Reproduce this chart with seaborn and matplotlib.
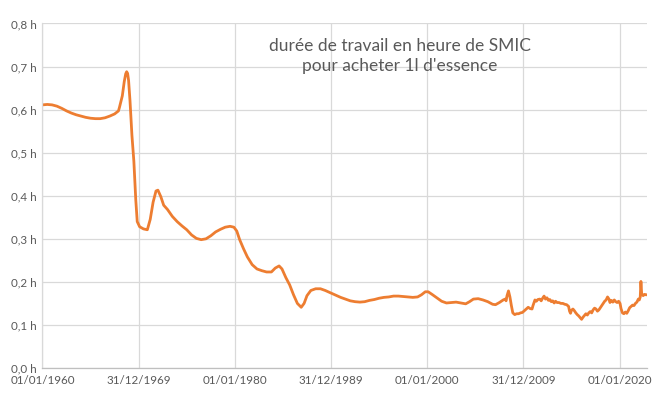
import matplotlib
matplotlib.use("Agg")
import matplotlib.pyplot as plt
import matplotlib.dates as mdates
import numpy as np
import pandas as pd
import seaborn as sns

# ---- data ----
years = [
    1960.0, 1960.5, 1961.0, 1961.5, 1962.0, 1962.5, 1963.0, 1963.5, 1964.0, 1964.5,
    1965.0, 1965.5, 1966.0, 1966.5, 1967.0, 1967.5, 1967.9, 1968.0, 1968.3, 1968.5,
    1968.65, 1968.75, 1968.85, 1968.95, 1969.1, 1969.3, 1969.5, 1969.7, 1969.85, 1970.1,
    1970.5, 1970.9,
    1971.2, 1971.5, 1971.8, 1972.0, 1972.3, 1972.6, 1973.0, 1973.5, 1974.0, 1974.5,
    1975.0, 1975.5, 1976.0, 1976.5, 1977.0, 1977.5, 1978.0, 1978.5, 1979.0, 1979.5,
    1979.9, 1980.2, 1980.5, 1980.9, 1981.3, 1981.8, 1982.3, 1982.8, 1983.3, 1983.8,
    1984.2, 1984.6, 1984.9, 1985.3, 1985.7, 1986.1, 1986.5, 1986.9, 1987.2, 1987.5,
    1987.9, 1988.4, 1988.9, 1989.4, 1989.9, 1990.5, 1991.0, 1991.5, 1992.0, 1992.5,
    1993.0, 1993.5, 1994.0, 1994.5, 1995.0, 1995.5, 1996.0, 1996.5, 1997.0, 1997.5,
    1998.0, 1998.5, 1999.0, 1999.4, 1999.8, 2000.1, 2000.5, 2001.0, 2001.5, 2002.0,
    2002.5, 2003.0, 2003.5, 2004.0, 2004.4, 2004.8, 2005.3, 2005.8, 2006.3, 2006.8,
    2007.1, 2007.5, 2007.9, 2008.1, 2008.2, 2008.3, 2008.45, 2008.6, 2008.75, 2008.9,
    2009.1, 2009.3, 2009.5, 2009.7, 2009.9, 2010.1, 2010.3, 2010.5, 2010.7, 2010.9,
    2011.0, 2011.2, 2011.35, 2011.5, 2011.7, 2011.85, 2012.0, 2012.15, 2012.3, 2012.45,
    2012.6, 2012.75, 2012.9, 2013.05, 2013.2, 2013.35, 2013.5, 2013.7, 2013.9, 2014.1,
    2014.3, 2014.5, 2014.7, 2014.8, 2014.9, 2015.0, 2015.15, 2015.3, 2015.45, 2015.6,
    2015.75, 2015.9, 2016.05, 2016.2, 2016.35, 2016.5, 2016.65, 2016.8, 2016.95, 2017.1,
    2017.25, 2017.4, 2017.55, 2017.7, 2017.85, 2018.0, 2018.15, 2018.3, 2018.45, 2018.6,
    2018.75, 2018.9, 2019.0, 2019.15, 2019.3, 2019.45, 2019.6, 2019.75, 2019.9, 2020.05,
    2020.15, 2020.3, 2020.45, 2020.6, 2020.75, 2020.9, 2021.05, 2021.2, 2021.35, 2021.5,
    2021.65, 2021.8, 2021.95, 2022.05, 2022.15, 2022.22, 2022.3, 2022.45, 2022.6, 2022.75,
    2022.85,
]
hours = [
    0.611, 0.612, 0.611, 0.608, 0.603, 0.597, 0.592, 0.588, 0.585, 0.582,
    0.580, 0.579, 0.579, 0.581, 0.585, 0.590, 0.597, 0.605, 0.632, 0.665,
    0.683, 0.688, 0.684, 0.668, 0.620, 0.540, 0.480, 0.390, 0.340, 0.328,
    0.323, 0.321,
    0.345, 0.385, 0.411, 0.413, 0.398, 0.378, 0.368, 0.352, 0.340, 0.330,
    0.321, 0.309, 0.301, 0.298, 0.300, 0.307, 0.316, 0.322, 0.327, 0.329,
    0.327, 0.318, 0.298, 0.277, 0.258, 0.240, 0.230, 0.226, 0.223, 0.223,
    0.232, 0.237, 0.230, 0.210, 0.193, 0.170, 0.150, 0.141, 0.150, 0.168,
    0.180, 0.184, 0.184, 0.180, 0.175, 0.169, 0.164, 0.160, 0.156, 0.154,
    0.153, 0.154, 0.157, 0.159, 0.162, 0.164, 0.165, 0.167, 0.167, 0.166,
    0.165, 0.164, 0.165, 0.170, 0.177, 0.177, 0.171, 0.163, 0.155, 0.151,
    0.152, 0.153, 0.151, 0.149, 0.154, 0.160, 0.161, 0.158, 0.154, 0.148,
    0.147, 0.152, 0.158, 0.160, 0.156, 0.168, 0.179, 0.165, 0.145, 0.128,
    0.124, 0.126, 0.126, 0.128, 0.129, 0.133, 0.137, 0.141, 0.138, 0.137,
    0.145, 0.158, 0.155, 0.159, 0.160, 0.156, 0.162, 0.167, 0.160, 0.163,
    0.157, 0.159, 0.154, 0.156, 0.151, 0.155, 0.152, 0.152, 0.150, 0.150,
    0.148, 0.147, 0.143, 0.132, 0.127, 0.134, 0.137, 0.133, 0.128, 0.124,
    0.121, 0.117, 0.113, 0.118, 0.122, 0.126, 0.123, 0.128, 0.131, 0.128,
    0.135, 0.139, 0.137, 0.132, 0.135, 0.140, 0.145, 0.150, 0.155, 0.158,
    0.165, 0.160, 0.152, 0.157, 0.153, 0.158, 0.154, 0.152, 0.155, 0.150,
    0.138, 0.128, 0.126, 0.130, 0.127, 0.133, 0.140, 0.143, 0.146, 0.145,
    0.150, 0.153, 0.160, 0.158, 0.165, 0.201, 0.172, 0.168, 0.171, 0.170,
    0.170,
]
tick_dates = ["1960-01-01", "1969-12-31", "1980-01-01", "1989-12-31",
              "2000-01-01", "2009-12-31", "2020-01-01"]
y_ticks = [0.0, 0.1, 0.2, 0.3, 0.4, 0.5, 0.6, 0.7, 0.8]
y_labels = ["0,0 h", "0,1 h", "0,2 h", "0,3 h", "0,4 h", "0,5 h", "0,6 h", "0,7 h", "0,8 h"]
title_text = "durée de travail en heure de SMIC\npour acheter 1l d'essence"

# ---- build frame ----
start = pd.Timestamp("1960-01-01")
dates = [start + pd.Timedelta(days=(y - 1960.0) * 365.25) for y in years]
df = pd.DataFrame({"date": dates, "heures": hours})

sns.set_theme(style="whitegrid")
plt.rcParams["font.family"] = ["Lato", "DejaVu Sans"]

TXT = "#595959"
GRID = "#d9d9d9"

fig = plt.figure(figsize=(6.65, 3.96), dpi=100)
ax = fig.add_axes([0.0639, 0.0707, 0.909, 0.870])

sns.lineplot(data=df, x="date", y="heures", ax=ax, color="#ED7D31",
             linewidth=2.0, estimator=None, sort=False)
for line in ax.get_lines():
    line.set_solid_joinstyle("round")
    line.set_solid_capstyle("round")

ax.set_xlim(start, dates[-1])
ax.set_ylim(0, 0.8)
ax.set_xticks([pd.Timestamp(d) for d in tick_dates])
ax.xaxis.set_major_formatter(mdates.DateFormatter("%d/%m/%Y"))
ax.set_yticks(y_ticks)
ax.set_yticklabels(y_labels)
ax.set_xlabel("")
ax.set_ylabel("")

ax.grid(True, color=GRID, linewidth=0.9)
ax.tick_params(axis="both", length=0, colors=TXT, labelsize=8.4)
ax.tick_params(axis="y", pad=4)
ax.tick_params(axis="x", pad=5)
for s in ["top", "right"]:
    ax.spines[s].set_visible(False)
ax.spines["left"].set_color(GRID)
ax.spines["left"].set_linewidth(0.9)
ax.spines["bottom"].set_color("#bfbfbf")
ax.spines["bottom"].set_linewidth(0.9)
ax.set_facecolor("white")

fig.text(400 / 665, 1 - 56 / 396, title_text, ha="center", va="center",
         fontsize=12.5, color=TXT, linespacing=1.25)

fig.savefig("out.png", dpi=100, facecolor="white")
